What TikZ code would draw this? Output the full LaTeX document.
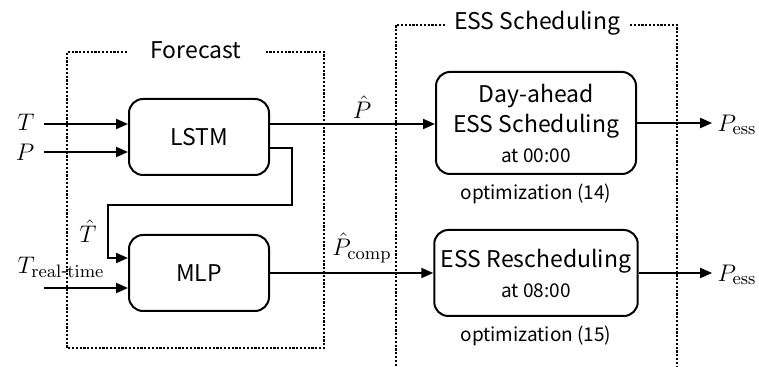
\documentclass[tikz,border=0pt]{standalone}
\usepackage[no-math]{fontspec}
\setmainfont{Noto Sans CJK KR}
\usepackage{amsmath,amssymb}
\usetikzlibrary{positioning,calc,arrows.meta}

\begin{document}
\begin{tikzpicture}[x=0.5pt,y=-0.5pt,
    blk/.style={rectangle,rounded corners=7pt,draw,line width=1pt,align=center,font=\fontsize{11.5}{15}\selectfont},
    arr/.style={line width=1pt,-{Triangle[length=6pt,width=5pt]}},
    frame/.style={line width=1.2pt,dash pattern=on 1.1pt off 0.8pt},
    var/.style={font=\fontsize{13}{15}\selectfont,inner sep=0pt},
    note/.style={font=\fontsize{9.5}{11}\selectfont},
    ttl/.style={font=\fontsize{11.5}{14}\selectfont}]

\useasboundingbox (0,0) rectangle (759,367);

% dotted frames
\node[ttl] (fctitle) at (196,50) {Forecast};
\draw[frame] (127,52) -| (67,348) -| (324,52) -- (266,52);
\node[ttl] (esstitle) at (537,23) {ESS Scheduling};
\draw[frame] (445,25) -| (396,372);
\draw[frame] (630,25) -| (677,372);

% blocks
\node[blk,minimum width=70pt,minimum height=38pt] (lstm) at (199,137) {LSTM};
\node[blk,minimum width=70pt,minimum height=38pt] (mlp) at (199,273) {MLP};
\node[blk,minimum width=100pt,minimum height=51pt] (dayahead) at (536,123)
    {Day-ahead\\ESS Scheduling\\{\fontsize{9.5}{15}\selectfont at 00:00}};
\node[blk,minimum width=100pt,minimum height=43pt] (resched) at (536,273)
    {ESS Rescheduling\\{\fontsize{9.5}{15}\selectfont at 08:00}};
\node[note,below=1pt of dayahead] (opt14) {optimization (14)};
\node[note,below=1pt of resched] (opt15) {optimization (15)};

% inputs
\node[var] (tin) at (26,122) {$T$};
\node[var] (pin) at (25,152) {$P$};
\node[var] (trt) at (61,267) {$T_{\mathrm{real\text{-}time}}$};
\coordinate (tstart) at (44,124);
\coordinate (pstart) at (44,152);
\coordinate (trtstart) at (44,288);
\coordinate (lstmout1) at ($(lstm.east)+(0,-13)$);
\coordinate (lstmout2) at ($(lstm.east)+(0,11)$);
\coordinate (mlpin1) at ($(mlp.west)+(0,-15)$);
\coordinate (mlpin2) at ($(mlp.west)+(0,15)$);

\draw[arr] (tstart) -- (lstm.west |- tstart);
\draw[arr] (pstart) -- (lstm.west |- pstart);
\draw[arr] (trtstart) -- (mlpin2);
\draw[arr] (lstmout2) -- ++(22,0) |- (108,205) |- (mlpin1);
\draw[arr] (lstmout1) -- (dayahead.west |- lstmout1);
\draw[arr] (mlp.east) -- (resched.west);

% labels on wires
\node[var] (that) at (88,231) {$\hat{T}$};
\node[var] (phat) at (362,107) {$\hat{P}$};
\node[var] (pcomp) at (362,248) {$\hat{P}_{\mathrm{comp}}$};

% outputs
\node[var] (pess1) at (737,125) {$P_{\mathrm{ess}}$};
\node[var] (pess2) at (737,275) {$P_{\mathrm{ess}}$};
\draw[arr,shorten >=2.5pt] (dayahead.east) -- (pess1.west |- dayahead.east);
\draw[arr,shorten >=2.5pt] (resched.east) -- (pess2.west |- resched.east);

\end{tikzpicture}
\end{document}
